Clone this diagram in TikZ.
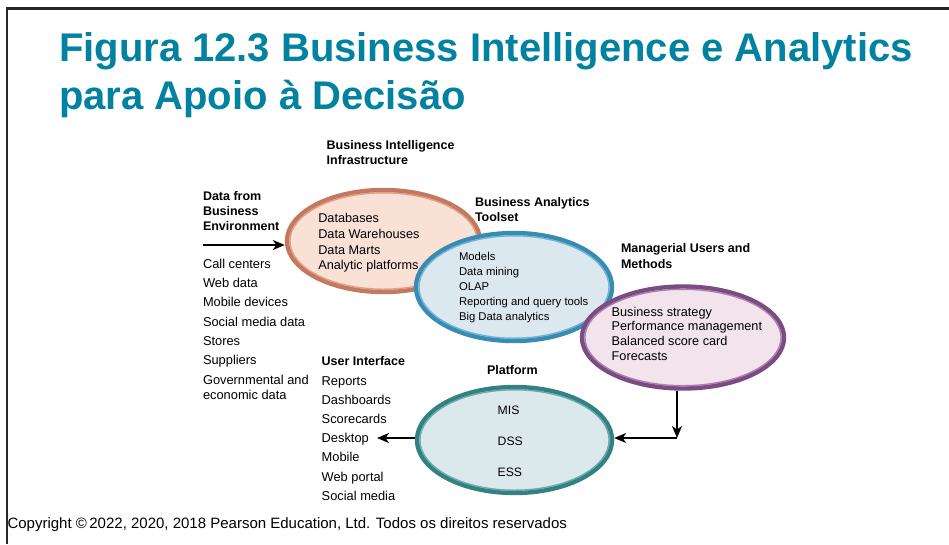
\documentclass[tikz,border=0pt]{standalone}
\usepackage{fontspec}
\setmainfont{Liberation Sans}
\usetikzlibrary{arrows.meta,shapes.geometric}
\definecolor{titlec}{RGB}{0,130,160}
\definecolor{infraF}{RGB}{250,225,213}
\definecolor{infraB}{RGB}{196,120,95}
\definecolor{infraL}{RGB}{222,160,135}
\definecolor{toolF}{RGB}{220,232,239}
\definecolor{toolB}{RGB}{55,140,180}
\definecolor{toolL}{RGB}{115,178,208}
\definecolor{mgrF}{RGB}{242,227,237}
\definecolor{mgrB}{RGB}{122,76,130}
\definecolor{mgrL}{RGB}{170,128,175}
\definecolor{platF}{RGB}{220,233,236}
\definecolor{platB}{RGB}{50,130,132}
\definecolor{platL}{RGB}{110,170,170}
\tikzset{
  oval/.style={ellipse, inner sep=0pt, line width=4.4pt},
  txt/.style={anchor=base west, inner sep=0pt, outer sep=0pt},
  lst/.style={txt, font=\fontsize{12.85}{15}\selectfont},
  hd/.style={txt, font=\fontsize{12.5}{15}\selectfont\bfseries, align=left},
  arr/.style={line width=1.4pt, -{Stealth[length=12pt,width=10pt,inset=3.5pt]}},
}
\begin{document}
\begin{tikzpicture}[x=1pt,y=-1pt]
\useasboundingbox (0,0) rectangle (949,544);
\fill[white] (0,0) rectangle (949,544);
% frame
\draw[line width=2.4pt, black!85] (7,544) -- (7,8.5) -- (949,8.5);
% title
\node[txt, font=\fontsize{40}{47}\selectfont\bfseries, text=titlec] (t1) at (59,61.7) {Figura 12.3 Business Intelligence e Analytics};
\node[txt, font=\fontsize{40}{47}\selectfont\bfseries, text=titlec] (t2) at (59,109) {para Apoio à Decisão};

% headings
\node[hd] (hbi) at (326.7,149) {Business Intelligence};
\node[hd] (hbi2) at (326.7,164.7) {Infrastructure};
\node[hd] (hba) at (475,206.5) {Business Analytics};
\node[hd] (hba2) at (475,221.5) {Toolset};
\node[hd] (hmu) at (621,252.5) {Managerial Users and};
\node[hd] (hmu2) at (621,268.5) {Methods};
\node[hd] (hpl) at (487,374.5) {Platform};
\node[hd] (hui) at (321.7,365) {User Interface};
\node[hd] (hd1) at (203,200.7) {Data from};
\node[hd] (hd2) at (203,215.7) {Business};
\node[hd] (hd3) at (203,230.7) {Environment};

% data source list
\node[lst] (s1) at (203,268.4) {Call centers};
\node[lst] (s2) at (203,287.6) {Web data};
\node[lst] (s3) at (203,306.8) {Mobile devices};
\node[lst] (s4) at (203,326) {Social media data};
\node[lst] (s5) at (203,345.2) {Stores};
\node[lst] (s6) at (203,364.4) {Suppliers};
\node[lst] (s7) at (203,384.4) {Governmental and};
\node[lst] (s8) at (203,399.8) {economic data};

% user interface list
\node[lst] (u1) at (321.7,385) {Reports};
\node[lst] (u2) at (321.7,404.3) {Dashboards};
\node[lst] (u3) at (321.7,423.5) {Scorecards};
\node[lst] (u4) at (321.7,442.5) {Desktop};
\node[lst] (u5) at (321.7,461.8) {Mobile};
\node[lst] (u6) at (321.7,481) {Web portal};
\node[lst] (u7) at (321.7,500.2) {Social media};

% BI infrastructure ellipse
\node[oval, draw=infraB, fill=infraF, minimum width=193pt, minimum height=102pt] (bi) at (383.5,241) {};
\draw[infraL, line width=1.4pt] (383.5,241) ellipse [x radius=93.6pt, y radius=48.2pt];
\node[lst, font=\fontsize{12.7}{14}\selectfont] (b1) at (318.3,222.7) {Databases};
\node[lst, font=\fontsize{12.7}{14}\selectfont] (b2) at (318.3,238.3) {Data Warehouses};
\node[lst, font=\fontsize{12.7}{14}\selectfont] (b3) at (318.3,254) {Data Marts};
\node[lst, font=\fontsize{12.7}{14}\selectfont] (b4) at (318.3,269.5) {Analytic platforms};

% analytics toolset ellipse
\node[oval, draw=toolB, fill=toolF, minimum width=196pt, minimum height=108pt] (ba) at (514,287) {};
\draw[toolL, line width=1.4pt] (514,287) ellipse [x radius=95.1pt, y radius=51.2pt];
\node[lst, font=\fontsize{11.3}{13}\selectfont] (a1) at (459,260.7) {Models};
\node[lst, font=\fontsize{11.3}{13}\selectfont] (a2) at (459,275.7) {Data mining};
\node[lst, font=\fontsize{11.3}{13}\selectfont] (a3) at (459,290.7) {OLAP};
\node[lst, font=\fontsize{11.3}{13}\selectfont] (a4) at (459,305.7) {Reporting and query tools};
\node[lst, font=\fontsize{11.3}{13}\selectfont] (a5) at (459,320.7) {Big Data analytics};

% managerial ellipse
\node[oval, draw=mgrB, fill=mgrF, minimum width=202pt, minimum height=102pt] (mu) at (683,337.5) {};
\draw[mgrL, line width=1.4pt] (683,337.5) ellipse [x radius=98.1pt, y radius=48.2pt];
\node[lst, font=\fontsize{12.7}{14}\selectfont] (m1) at (611.7,316) {Business strategy};
\node[lst, font=\fontsize{12.7}{14}\selectfont] (m2) at (611.7,330.7) {Performance management};
\node[lst, font=\fontsize{12.7}{14}\selectfont] (m3) at (611.7,345.4) {Balanced score card};
\node[lst, font=\fontsize{12.7}{14}\selectfont] (m4) at (611.7,360.1) {Forecasts};

% platform ellipse
\node[oval, draw=platB, fill=platF, minimum width=195pt, minimum height=106pt] (pf) at (514.5,440) {};
\draw[platL, line width=1.4pt] (514.5,440) ellipse [x radius=94.6pt, y radius=50.2pt];
\node[lst, font=\fontsize{12.2}{14}\selectfont] (p1) at (497.7,414) {MIS};
\node[lst, font=\fontsize{12.2}{14}\selectfont] (p2) at (497.7,445.7) {DSS};
\node[lst, font=\fontsize{12.2}{14}\selectfont] (p3) at (497.7,476.7) {ESS};

% connectors
\coordinate (dsrc) at (203,245);
\draw[arr] (dsrc) -- (bi.west |- dsrc);
\coordinate (corner) at (677,438);
\draw[arr] (mu.south -| corner) -- (corner);
\draw[arr] (corner) -- (corner -| pf.east);
\coordinate (uiend) at (377,438);
\draw[arr] (pf.west |- uiend) -- (uiend);

% copyright
\node[txt, font=\fontsize{15}{17}\selectfont] (cp) at (7.5,528) {Copyright \textcopyright\,2022, 2020, 2018 Pearson Education, Ltd. Todos os direitos reservados};
\end{tikzpicture}
\end{document}
